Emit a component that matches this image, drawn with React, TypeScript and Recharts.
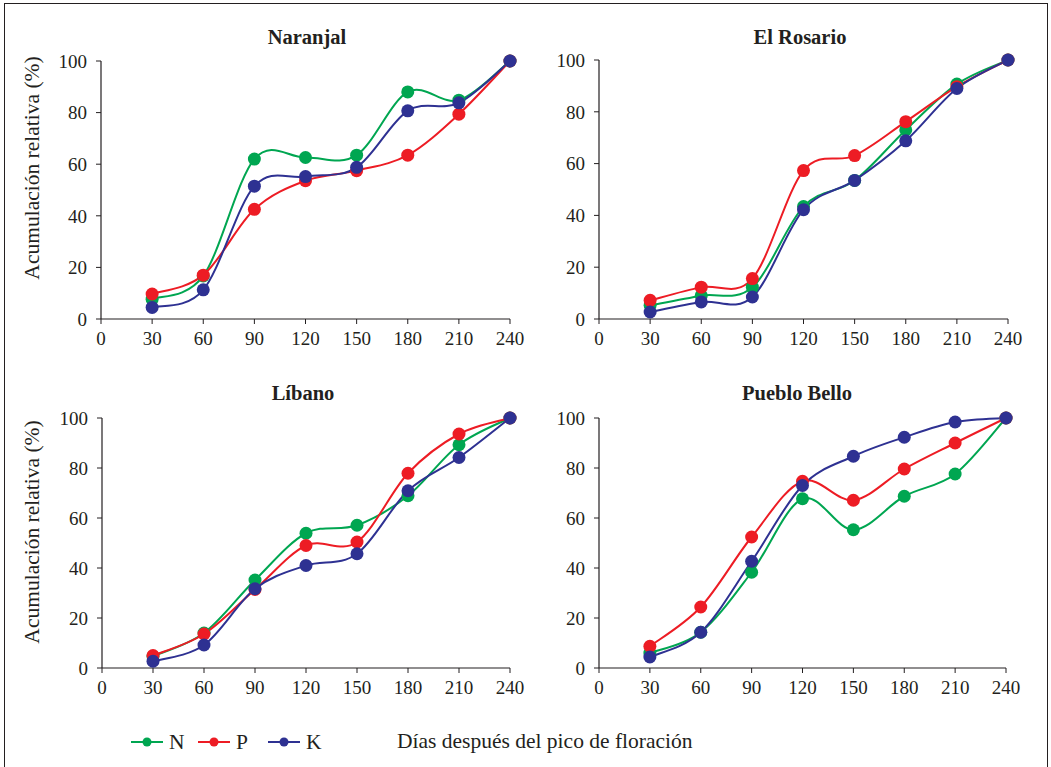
import React from 'react';
import { LineChart, Line, XAxis, YAxis } from 'recharts';

const days = [30, 60, 90, 120, 150, 180, 210, 240];
const xTicks = [0, 30, 60, 90, 120, 150, 180, 210, 240];
const yTicks = [0, 20, 40, 60, 80, 100];

const naranjalN = [7.7, 16.7, 62, 62.6, 63.5, 88, 84.8, 100];
const naranjalP = [9.7, 17, 42.5, 53.6, 57.5, 63.5, 79.4, 100];
const naranjalK = [4.5, 11.3, 51.5, 55.2, 58.8, 80.7, 83.8, 100];

const rosarioN = [5.3, 9, 12.3, 43.4, 53.5, 73, 90.7, 100];
const rosarioP = [7.2, 12.3, 15.6, 57.3, 63.1, 76.2, 89.7, 100];
const rosarioK = [2.7, 6.6, 8.5, 42.2, 53.5, 68.8, 89, 100];

const libanoN = [4.7, 14, 35.2, 53.9, 57.1, 68.9, 89.3, 100];
const libanoP = [5, 13.6, 31.4, 49, 50.4, 77.9, 93.6, 100];
const libanoK = [2.7, 9.2, 31.7, 41, 45.7, 70.9, 84.2, 100];

const puebloN = [6, 14.3, 38.3, 67.7, 55.3, 68.7, 77.6, 100];
const puebloP = [8.7, 24.4, 52.4, 74.7, 67.1, 79.6, 90, 100];
const puebloK = [4.4, 14.3, 42.7, 73, 84.7, 92.3, 98.4, 100];

const GREEN = '#00A651';
const RED = '#ED1C24';
const BLUE = '#2E3192';
const INK = '#231F20';
const FONT = "'Liberation Serif', Tinos, 'Times New Roman', Times, 'DejaVu Serif', serif";

// smoothed line like the spreadsheet one (Catmull-Rom style bezier)
function smoothCurve(context: any) {
  let pts: [number, number][] = [];
  return {
    areaStart() {},
    areaEnd() {},
    lineStart() {
      pts = [];
    },
    point(x: number, y: number) {
      pts.push([+x, +y]);
    },
    lineEnd() {
      if (!pts.length) return;
      context.moveTo(pts[0][0], pts[0][1]);
      for (let i = 0; i < pts.length - 1; i++) {
        const p0 = pts[i - 1] || pts[i];
        const p1 = pts[i];
        const p2 = pts[i + 1];
        const p3 = pts[i + 2] || p2;
        context.bezierCurveTo(
          p1[0] + (p2[0] - p0[0]) / 6,
          p1[1] + (p2[1] - p0[1]) / 6,
          p2[0] - (p3[0] - p1[0]) / 6,
          p2[1] - (p3[1] - p1[1]) / 6,
          p2[0],
          p2[1]
        );
      }
    },
  };
}

const build = (n: number[], p: number[], k: number[]) =>
  days.map((day, i) => ({ day, N: n[i], P: p[i], K: k[i] }));

interface PanelProps {
  data: { day: number; N: number; P: number; K: number }[];
  left: number;
  top: number;
  width: number;
  margin: { top: number; right: number; bottom: number; left: number };
  yLabelY?: number;
}

const tickStyle = { fill: INK, fontSize: 19, style: { fontFamily: FONT } };

function Panel({ data, left, top, width, margin, yLabelY }: PanelProps) {
  return (
    <div style={{ position: 'absolute', left, top }}>
      <LineChart width={width} height={360} data={data} margin={margin} style={{ fontFamily: FONT }}>
        <XAxis
          dataKey="day"
          type="number"
          domain={[0, 240]}
          ticks={xTicks}
          tick={tickStyle}
          tickSize={5}
          tickMargin={8}
          height={30}
          stroke={INK}
          axisLine={{ stroke: INK, strokeWidth: 1.2 }}
          tickLine={{ stroke: INK }}
          interval={0}
        />
        <YAxis
          type="number"
          domain={[0, 100]}
          ticks={yTicks}
          tick={tickStyle}
          tickSize={5}
          tickMargin={9}
          width={61}
          axisLine={{ stroke: INK, strokeWidth: 1.2 }}
          tickLine={{ stroke: INK }}
          interval={0}
          label={
            yLabelY
              ? (props: any) => (
                  <text
                    x={32}
                    y={yLabelY}
                    transform={`rotate(-90, 32, ${yLabelY})`}
                    textAnchor="middle"
                    dominantBaseline="central"
                    fill={INK}
                    fontSize={21.5}
                    style={{ fontFamily: FONT }}
                  >
                    Acumulación relativa (%)
                  </text>
                )
              : undefined
          }
        />
        {[
          { key: 'N', color: GREEN },
          { key: 'P', color: RED },
          { key: 'K', color: BLUE },
        ].map((s) => (
          <Line
            key={s.key}
            dataKey={s.key}
            type={smoothCurve as any}
            stroke={s.color}
            strokeWidth={2}
            dot={{ r: 6.5, fill: s.color, stroke: s.color, strokeWidth: 0 }}
            activeDot={false}
            isAnimationActive={false}
          />
        ))}
      </LineChart>
    </div>
  );
}

const Title = ({ text, x, y }: { text: string; x: number; y: number }) => (
  <div
    style={{
      position: 'absolute',
      left: x - 100,
      top: y - 12,
      width: 200,
      textAlign: 'center',
      fontWeight: 'bold',
      fontSize: 20.5,
      lineHeight: '24px',
      color: INK,
    }}
  >
    {text}
  </div>
);

const LegendItem = ({ color, label, x }: { color: string; label: string; x: number }) => (
  <div style={{ position: 'absolute', left: x, top: 730, height: 24, display: 'flex', alignItems: 'center' }}>
    <svg width={32} height={14}>
      <line x1={0} y1={7} x2={32} y2={7} stroke={color} strokeWidth={2} />
      <circle cx={16} cy={7} r={4.5} fill={color} />
    </svg>
    <span style={{ marginLeft: 6, fontSize: 21.5, color: INK }}>{label}</span>
  </div>
);

export default function App() {
  return (
    <div
      style={{
        position: 'absolute',
        left: 0,
        top: 0,
        width: 1051,
        height: 767,
        background: '#fff',
        fontFamily: FONT,
        overflow: 'hidden',
      }}
    >
      <div
        style={{
          position: 'absolute',
          left: 4,
          top: 3,
          width: 1044,
          height: 780,
          border: `1.5px solid ${INK}`,
          boxSizing: 'border-box',
        }}
      />
      <Panel
        data={build(naranjalN, naranjalP, naranjalK)}
        left={0}
        top={0}
        width={530}
        margin={{ top: 61, right: 20, bottom: 11, left: 40 }}
        yLabelY={168}
      />
      <Panel
        data={build(rosarioN, rosarioP, rosarioK)}
        left={520}
        top={0}
        width={510}
        margin={{ top: 60, right: 22, bottom: 11, left: 18 }}
      />
      <Panel
        data={build(libanoN, libanoP, libanoK)}
        left={0}
        top={350}
        width={530}
        margin={{ top: 68, right: 20, bottom: 12, left: 41 }}
        yLabelY={182}
      />
      <Panel
        data={build(puebloN, puebloP, puebloK)}
        left={520}
        top={350}
        width={510}
        margin={{ top: 68, right: 24, bottom: 12, left: 18 }}
      />
      <Title text="Naranjal" x={307} y={37} />
      <Title text="El Rosario" x={800} y={37} />
      <Title text="Líbano" x={303} y={393} />
      <Title text="Pueblo Bello" x={797} y={393} />
      <LegendItem color={GREEN} label="N" x={131} />
      <LegendItem color={RED} label="P" x={198} />
      <LegendItem color={BLUE} label="K" x={268} />
      <div style={{ position: 'absolute', left: 397, top: 729, lineHeight: '24px', fontSize: 21.5, color: INK }}>
        Días después del pico de floración
      </div>
    </div>
  );
}
